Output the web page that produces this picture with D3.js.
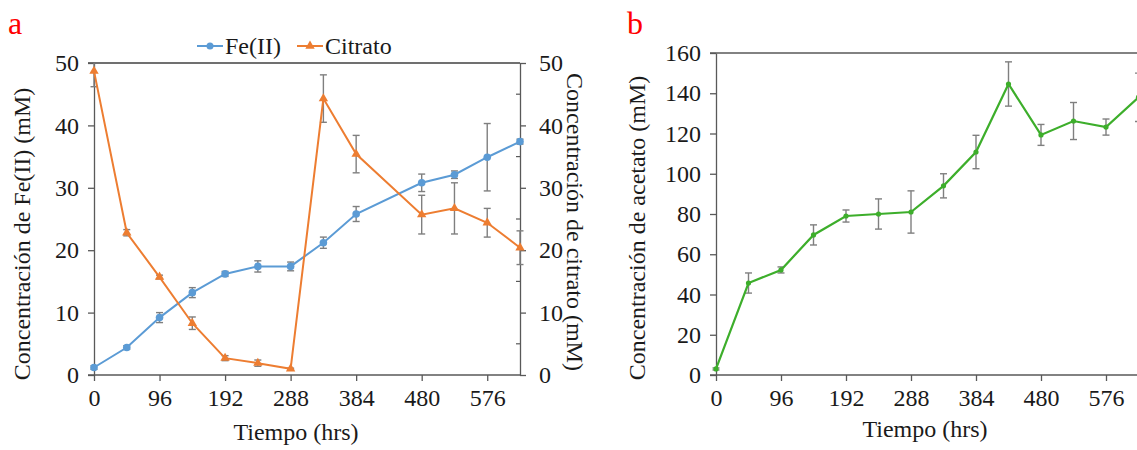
<!DOCTYPE html>
<html><head><meta charset="utf-8">
<script src="https://cdn.jsdelivr.net/npm/d3@7/dist/d3.min.js"></script>
<style>
body{margin:0;background:#fff;}
svg text{font-family:'Liberation Serif','Times New Roman',serif !important;}
</style></head>
<body><svg id="c" width="1137" height="450"></svg>
<script>
// ---- data ----
const timeTicks = [0, 96, 192, 288, 384, 480, 576];
const feTime   = [0, 48, 96, 144, 192, 240, 288, 336, 384, 480, 528, 576, 624];
const feValues = [1.2, 4.4, 9.2, 13.2, 16.2, 17.4, 17.4, 21.2, 25.8, 30.8, 32.1, 34.9, 37.4];
const feErr    = [0.3, 0.3, 0.8, 0.8, 0.4, 0.9, 0.7, 0.9, 1.2, 1.4, 0.6, 5.4, 0.4];
const citTime   = [0, 48, 96, 144, 192, 240, 288, 336, 384, 480, 528, 576, 624];
const citValues = [48.7, 22.8, 15.7, 8.3, 2.7, 1.9, 1.0, 44.3, 35.4, 25.7, 26.7, 24.4, 20.4];
const citErr    = [2.5, 0.5, 0.3, 1.0, 0.4, 0.5, 0.1, 3.8, 3.0, 3.1, 4.1, 2.3, 2.7];
const feTicks = [0, 10, 20, 30, 40, 50];
const acTime   = [0, 48, 96, 144, 192, 240, 288, 336, 384, 432, 480, 528, 576, 624];
const acValues = [3.0, 45.7, 52.2, 69.6, 79.0, 80.0, 81.0, 94.0, 110.8, 144.6, 119.3, 126.2, 123.2, 138.0];
const acErr    = [0.5, 5.0, 1.5, 5.0, 3.0, 7.5, 10.5, 6.0, 8.3, 11.0, 5.2, 9.2, 4.0, 12.0];
const acTicks = [0, 20, 40, 60, 80, 100, 120, 140, 160];

const svg = d3.select("#c");
const FS = 24;
const FF = "'Liberation Serif','Times New Roman',serif";
const axisCol = "#595959", txtCol = "#1a1a1a", errCol = "#7f7f7f";
const blue = "#5B9BD5", orange = "#ED7D31", green = "#3DAE2B";

function style(a) {
  a.attr("font-family", FF);
  a.selectAll("path").attr("stroke", axisCol).attr("stroke-width", 1.3);
  a.selectAll("line").attr("stroke", axisCol).attr("stroke-width", 1.3);
  a.selectAll("text").attr("font-size", FS).attr("fill", txtCol).style("font-family", FF);
}
function bottomAxis(g, x, y0) {
  const ax = d3.axisBottom(x).tickValues(timeTicks).tickSize(6).tickPadding(8).tickSizeOuter(0);
  const a = g.append("g").attr("transform", `translate(0,${y0})`).call(ax);
  style(a);
  return a;
}
function label(g, txt, attrs) {
  const t = g.append("text").attr("font-size", FS).attr("fill", txtCol).style("font-family", FF).text(txt);
  Object.entries(attrs).forEach(([k, v]) => t.attr(k, v));
  return t;
}
function errBars(g, xs, ys, es, x, y, clipTop) {
  const grp = g.append("g");
  xs.forEach((t, i) => {
    const cx = x(t);
    let top = y(ys[i] + es[i]);
    const bot = y(ys[i] - es[i]);
    const capTop = top >= clipTop;
    if (top < clipTop) top = clipTop;
    grp.append("line").attr("x1", cx).attr("x2", cx).attr("y1", top).attr("y2", bot)
      .attr("stroke", errCol).attr("stroke-width", 1.4);
    if (capTop) grp.append("line").attr("x1", cx - 3.5).attr("x2", cx + 3.5).attr("y1", top).attr("y2", top)
      .attr("stroke", errCol).attr("stroke-width", 1.4);
    grp.append("line").attr("x1", cx - 3.5).attr("x2", cx + 3.5).attr("y1", bot).attr("y2", bot)
      .attr("stroke", errCol).attr("stroke-width", 1.4);
  });
}

// ---------- Panel a ----------
const xa = d3.scaleLinear().domain([0, 624]).range([94, 520]);
const ya = d3.scaleLinear().domain([0, 50]).range([375, 63]);
const ga = svg.append("g");

ga.append("line").attr("x1", 88).attr("x2", 520).attr("y1", ya(50)).attr("y2", ya(50))
  .attr("stroke", "#404040").attr("stroke-width", 1.3);

const la = ga.append("g").attr("transform", "translate(94,0)")
  .call(d3.axisLeft(ya).tickValues(feTicks).tickSize(6).tickPadding(9).tickSizeOuter(0));
style(la);
const ra = ga.append("g").attr("transform", "translate(520,0)")
  .call(d3.axisRight(ya).tickValues(feTicks).tickSize(6).tickPadding(13).tickSizeOuter(0));
style(ra);
[5, 15, 25, 35, 45].forEach(v => {
  ga.append("line").attr("x1", 516).attr("x2", 520).attr("y1", ya(v)).attr("y2", ya(v))
    .attr("stroke", axisCol).attr("stroke-width", 1.2);
});
const ba = bottomAxis(ga, xa, 375);
ba.select("path").attr("d", "M88,0H520");

errBars(ga, feTime, feValues, feErr, xa, ya, ya(50));
errBars(ga, citTime, citValues, citErr, xa, ya, ya(50));

const lineA = d3.line().x(d => xa(d[0])).y(d => ya(d[1]));
ga.append("path").datum(feTime.map((t, i) => [t, feValues[i]])).attr("d", lineA)
  .attr("fill", "none").attr("stroke", blue).attr("stroke-width", 2);
ga.append("path").datum(citTime.map((t, i) => [t, citValues[i]])).attr("d", lineA)
  .attr("fill", "none").attr("stroke", orange).attr("stroke-width", 2);

ga.selectAll(".fe").data(feTime.map((t, i) => [t, feValues[i]])).join("circle")
  .attr("cx", d => xa(d[0])).attr("cy", d => ya(d[1])).attr("r", 3.8).attr("fill", blue);
const tri = d3.symbol().type(d3.symbolTriangle).size(38);
ga.selectAll(".ci").data(citTime.map((t, i) => [t, citValues[i]])).join("path")
  .attr("d", tri).attr("transform", d => `translate(${xa(d[0])},${ya(d[1])})`).attr("fill", orange);

label(ga, "Concentración de Fe(II) (mM)", {transform: "translate(30,234) rotate(-90)", "text-anchor": "middle"});
label(ga, "Concentración de citrato (mM)", {transform: "translate(567,222) rotate(90)", "text-anchor": "middle"});
label(ga, "Tiempo (hrs)", {x: 296, y: 440, "text-anchor": "middle"});

const lg = ga.append("g");
lg.append("line").attr("x1", 197).attr("x2", 223).attr("y1", 46).attr("y2", 46).attr("stroke", blue).attr("stroke-width", 2);
lg.append("circle").attr("cx", 210).attr("cy", 46).attr("r", 3.5).attr("fill", blue);
label(lg, "Fe(II)", {x: 225, y: 54});
lg.append("line").attr("x1", 297).attr("x2", 323).attr("y1", 46).attr("y2", 46).attr("stroke", orange).attr("stroke-width", 2);
lg.append("path").attr("d", tri).attr("transform", "translate(310,46)").attr("fill", orange);
label(lg, "Citrato", {x: 325, y: 54});

svg.append("text").attr("x", 8).attr("y", 34).attr("font-size", 32).attr("fill", "#ff0000").style("font-family", FF).text("a");

// ---------- Panel b ----------
const xb = d3.scaleLinear().domain([0, 624]).range([716, 716 + 624 * 65 / 96]);
const yb = d3.scaleLinear().domain([0, 160]).range([375, 53]);
const gb = svg.append("g");
gb.append("line").attr("x1", 710).attr("x2", 1140).attr("y1", yb(160)).attr("y2", yb(160))
  .attr("stroke", "#595959").attr("stroke-width", 1.3);
const lb = gb.append("g").attr("transform", "translate(716,0)")
  .call(d3.axisLeft(yb).tickValues(acTicks).tickSize(6).tickPadding(9).tickSizeOuter(0));
style(lb);
const bb = bottomAxis(gb, xb, 375);
bb.select("path").attr("d", "M710,0H1140");

errBars(gb, acTime, acValues, acErr, xb, yb, yb(160));
const lineB = d3.line().x(d => xb(d[0])).y(d => yb(d[1]));
gb.append("path").datum(acTime.map((t, i) => [t, acValues[i]])).attr("d", lineB)
  .attr("fill", "none").attr("stroke", green).attr("stroke-width", 2.2);
gb.selectAll(".ac").data(acTime.map((t, i) => [t, acValues[i]])).join("circle")
  .attr("cx", d => xb(d[0])).attr("cy", d => yb(d[1])).attr("r", 2.6).attr("fill", green);

label(gb, "Concentración de acetato (mM)", {transform: "translate(645,228) rotate(-90)", "text-anchor": "middle"});
label(gb, "Tiempo (hrs)", {x: 925, y: 437, "text-anchor": "middle"});
svg.append("text").attr("x", 627).attr("y", 34).attr("font-size", 32).attr("fill", "#ff0000").style("font-family", FF).text("b");
</script></body></html>
